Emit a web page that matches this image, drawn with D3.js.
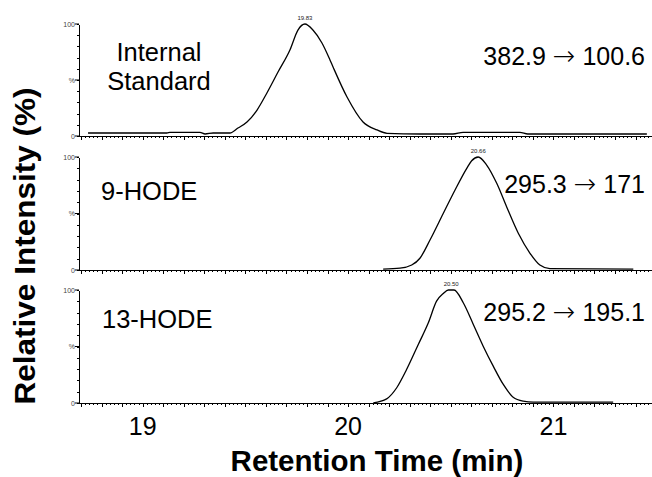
<!DOCTYPE html>
<meta charset="utf-8">
<style>
body { margin: 0; background: #fff; }
svg { font-family: "Liberation Sans", Arial, sans-serif; }
.trace { fill: none; stroke: #000; stroke-width: 1.3px; stroke-linejoin: round; }
.axis path, .axis line { stroke: #000; shape-rendering: crispEdges; }
.ylab { font-size: 7px; fill: #444; }
.arrow { font-family: "DejaVu Sans", sans-serif; font-weight: 200; }
</style>
<svg width="652" height="477"></svg>
<script src="https://cdn.jsdelivr.net/npm/d3@7"></script>
<script>

// retention time (min) / relative intensity (%)
var isTime = [18.734, 19.118, 19.133, 19.279, 19.304, 19.343, 19.425, 19.464, 19.508, 19.557, 19.605, 19.659, 19.717, 19.756, 19.790, 19.829, 19.873, 19.912, 19.927, 19.995, 20.073, 20.141, 20.190, 20.350, 20.511, 20.560, 20.837, 20.875, 21.455];
var isIntensity = [2.7, 2.7, 3.3, 3.3, 1.8, 2.7, 2.7, 7.1, 12.5, 23.2, 38.4, 57.1, 76.8, 94.6, 100, 94.6, 83.0, 67.9, 61.6, 34.8, 12.5, 5.4, 2.4, 1.8, 1.8, 3.3, 3.3, 1.8, 1.8];

var hode9Time = [20.171, 20.253, 20.310, 20.350, 20.399, 20.464, 20.521, 20.578, 20.602, 20.634, 20.675, 20.724, 20.772, 20.829, 20.886, 20.934, 20.983, 21.389];
var hode9Intensity = [0.8, 1.6, 4.4, 10.4, 26.5, 50.2, 70.8, 90.0, 96.7, 100, 92.9, 76.7, 56.0, 32.5, 14.8, 4.4, 1.2, 0.8];

var hode13Time = [20.123, 20.188, 20.237, 20.285, 20.342, 20.391, 20.431, 20.464, 20.488, 20.516, 20.561, 20.610, 20.658, 20.707, 20.756, 20.804, 20.853, 20.902, 21.291];
var hode13Intensity = [0.2, 3.7, 13.5, 29.6, 51.8, 71.0, 90.1, 96.9, 100, 100, 88.7, 69.5, 50.3, 32.6, 16.4, 5.1, 1.6, 0.7, 0.7];

var compoundNames = [["Internal", "Standard"], ["9-HODE"], ["13-HODE"]];
var precursors = ["382.9", "295.3", "295.2"];
var products = ["100.6", "171", "195.1"];
var peakLabels = ["19.83", "20.66", "20.50"];
var peakTimes = [19.790, 20.634, 20.502];
var xTickLabels = [19, 20, 21];

var svg = d3.select("svg");

var x = d3.scaleLinear().domain([18.69, 21.48]).range([79, 652]);

var panels = [
    { top: 24, bottom: 136, t: isTime, v: isIntensity, nameX: 159, nameY: [61, 90], anchor: "middle", trY: 65 },
    { top: 157, bottom: 270, t: hode9Time, v: hode9Intensity, nameX: 101, nameY: [200], anchor: "start", trY: 193 },
    { top: 290, bottom: 403, t: hode13Time, v: hode13Intensity, nameX: 102, nameY: [328], anchor: "start", trY: 321 }
];

var minorX = d3.range(935, 1075).map(function(i) { return i / 50; });
var majorX = d3.range(187, 215).map(function(i) { return i / 10; });

panels.forEach(function(p, k) {
    var y = d3.scaleLinear().domain([0, 100]).range([p.bottom, p.top]);
    var g = svg.append("g");

    // x axis: minor and major ticks
    g.append("g").attr("class", "axis")
        .attr("transform", "translate(0," + p.bottom + ")")
        .call(d3.axisBottom(x).tickValues(minorX).tickSize(2).tickSizeOuter(0).tickFormat(""));
    g.append("g").attr("class", "axis")
        .attr("transform", "translate(0," + p.bottom + ")")
        .call(d3.axisBottom(x).tickValues(majorX).tickSize(4).tickSizeOuter(0).tickFormat(""))
        .select(".domain").remove();

    // y axis
    g.append("g").attr("class", "axis")
        .attr("transform", "translate(79,0)")
        .call(d3.axisLeft(y).tickValues(d3.range(0, 101, 10)).tickSize(2).tickSizeOuter(0).tickFormat(""));
    g.selectAll(".ylab")
        .data([[100, "100"], [50, "%"], [0, "0"]])
        .enter().append("text")
        .attr("class", "ylab")
        .attr("x", 75)
        .attr("y", function(d) { return y(d[0]) + 2.5; })
        .attr("text-anchor", "end")
        .text(function(d) { return d[1]; });
    g.selectAll(".ytk")
        .data([100, 50, 0])
        .enter().append("line")
        .attr("x1", 75).attr("x2", 79)
        .attr("y1", function(d) { return y(d); })
        .attr("y2", function(d) { return y(d); })
        .attr("stroke", "#000");

    // trace
    var line = d3.line()
        .x(function(d, i) { return x(p.t[i]); })
        .y(function(d) { return y(d); })
        .curve(d3.curveMonotoneX);
    g.append("path").attr("class", "trace").attr("d", line(p.v));

    // peak label
    g.append("text")
        .attr("x", x(peakTimes[k]))
        .attr("y", y(100) - 4)
        .attr("text-anchor", "middle")
        .attr("font-size", 6)
        .attr("fill", "#222")
        .text(peakLabels[k]);

    // compound name
    compoundNames[k].forEach(function(s, j) {
        g.append("text")
            .attr("x", p.nameX)
            .attr("y", p.nameY[j])
            .attr("text-anchor", p.anchor)
            .attr("font-size", 25.5)
            .text(s);
    });

    // MRM transition
    var tr = g.append("text")
        .attr("x", 645)
        .attr("y", p.trY)
        .attr("text-anchor", "end")
        .attr("font-size", 25);
    tr.append("tspan").text(precursors[k] + " ");
    tr.append("tspan").attr("class", "arrow").attr("font-size", 27).text("\u2192");
    tr.append("tspan").text(" " + products[k]);
});

// x tick labels on the bottom panel
svg.selectAll(".xlab")
    .data(xTickLabels)
    .enter().append("text")
    .attr("x", function(d) { return x(d); })
    .attr("y", 435)
    .attr("text-anchor", "middle")
    .attr("font-size", 25)
    .text(function(d) { return d; });

svg.append("text")
    .attr("x", 377)
    .attr("y", 471)
    .attr("text-anchor", "middle")
    .attr("font-size", 29.5)
    .attr("font-weight", "bold")
    .text("Retention Time (min)");

svg.append("text")
    .attr("transform", "translate(35,246) rotate(-90)")
    .attr("text-anchor", "middle")
    .attr("font-size", 30)
    .attr("font-weight", "bold")
    .attr("textLength", 317)
    .attr("lengthAdjust", "spacingAndGlyphs")
    .text("Relative Intensity (%)");

</script>
